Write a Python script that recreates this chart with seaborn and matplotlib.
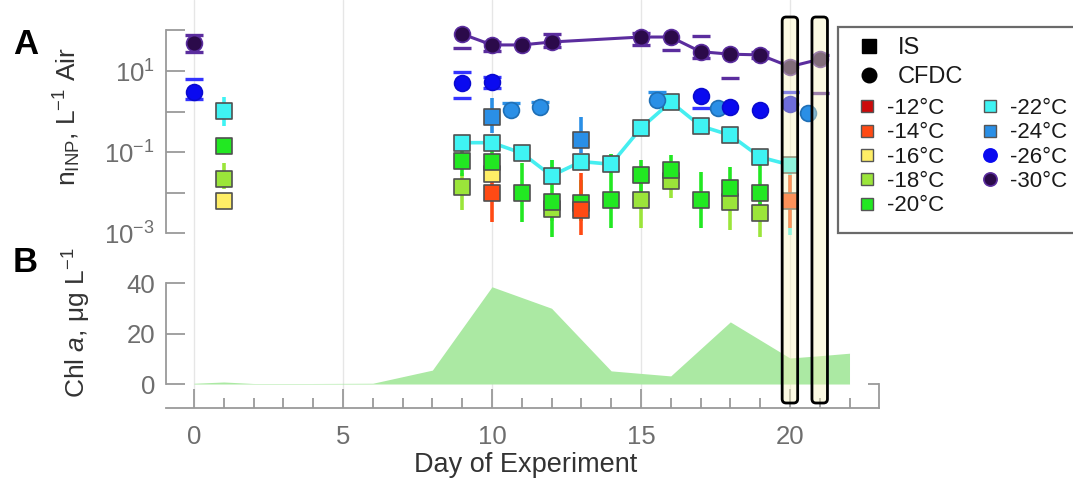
import numpy as np
import matplotlib
matplotlib.use("Agg")
import matplotlib.pyplot as plt
import seaborn as sns
from matplotlib import ticker
from matplotlib.lines import Line2D
from matplotlib.patches import Rectangle, FancyBboxPatch

sns.set_theme(style="white")
plt.rcParams["font.family"] = ["Liberation Sans", "DejaVu Sans"]
plt.rcParams["mathtext.fontset"] = "custom"
plt.rcParams["mathtext.rm"] = "Liberation Sans"
plt.rcParams["mathtext.it"] = "Liberation Sans:italic"
plt.rcParams["mathtext.bf"] = "Liberation Sans:bold"

nan = np.nan

# ---------------- data ----------------
temp_labels = ["-12°C", "-14°C", "-16°C", "-18°C", "-20°C",
               "-22°C", "-24°C", "-26°C", "-30°C"]
temp_colors = ["#cc0a0a", "#ff4a14", "#ffee66", "#9be53a", "#22e822",
               "#3ff3f3", "#2a8fe6", "#0a0af0", "#2b0a4a"]

# Ice spectrometer (IS) samples: day, value, lower / upper bound (L^-1 air)
is_m14_day = [10, 13, 20]
is_m14_val = [0.0098, 0.0037, 0.0061]
is_m14_lo = [0.0019, 0.00089, 0.0013]
is_m14_hi = [0.030, 0.030, 0.027]

is_m16_day = [1, 10]
is_m16_val = [0.0062, 0.029]
is_m16_lo = [0.0050, 0.025]
is_m16_hi = [0.0075, 0.033]

is_m18_day = [1, 9, 12, 15, 16, 18, 19]
is_m18_val = [0.0216, 0.0137, 0.0039, 0.0065, 0.019, 0.0058, 0.0031]
is_m18_lo = [0.012, 0.0037, 0.0020, 0.0013, 0.0073, 0.00118, 0.00079]
is_m18_hi = [0.054, 0.030, 0.0060, 0.020, 0.040, 0.015, 0.010]

is_m20_day = [1, 9, 10, 11, 12, 13, 14, 15, 16, 17, 18, 19]
is_m20_val = [0.14, 0.060, 0.056, 0.0098, 0.0058, 0.0055, 0.0065, 0.027, 0.036, 0.0065, 0.0129, 0.0098]
is_m20_lo = [0.10, 0.025, 0.020, 0.0019, 0.00079, 0.0020, 0.0013, 0.010, 0.015, 0.0013, 0.0040, 0.0040]
is_m20_hi = [0.16, 0.15, 0.12, 0.054, 0.063, 0.020, 0.090, 0.063, 0.084, 0.032, 0.043, 0.075]

is_m22_day = [1, 9, 10, 11, 12, 13, 14, 15, 16, 17, 18, 19, 20]
is_m22_val = [1.05, 0.17, 0.17, 0.094, 0.026, 0.058, 0.050, 0.39, 1.72, 0.44, 0.26, 0.075, 0.048]
is_m22_lo = [0.44, 0.15, 0.15, 0.085, 0.020, 0.050, 0.045, 0.35, 1.50, 0.40, 0.23, 0.060, 0.0009]
is_m22_hi = [2.28, 0.19, 0.19, 0.13, 0.063, 0.066, 0.090, 0.43, 1.95, 0.48, 0.29, 0.090, 0.070]

is_m24_day = [10, 13]
is_m24_val = [0.73, 0.20]
is_m24_lo = [0.29, 0.094]
is_m24_hi = [2.15, 0.73]

# Continuous-flow diffusion chamber (CFDC) samples
cfdc_m24_day = [10.65, 11.6, 15.55, 17.6, 20.6]
cfdc_m24_val = [1.09, 1.29, 1.92, 1.22, 0.92]
cfdc_m24_lo = [nan, nan, nan, nan, nan]
cfdc_m24_hi = [1.6, 1.7, 3.1, nan, nan]

cfdc_m26_day = [0, 9, 10, 17, 18, 19, 20]
cfdc_m26_val = [3.1, 5.0, 5.4, 2.4, 1.26, 1.09, 1.53]
cfdc_m26_lo = [2.05, 2.2, 3.7, 1.2, nan, nan, nan]
cfdc_m26_hi = [6.3, 9.3, 7.2, nan, nan, nan, 3.1]

cfdc_m30_day = [0, 9, 10, 11, 12, 15, 16, 17, 18, 19, 20, 21]
cfdc_m30_val = [50, 82, 44, 44, 52, 69, 69, 30, 26, 25, 12.8, 19.5]
cfdc_m30_lo = [29, 37, 31.7, nan, 38.5, 44, 33, 20.5, 6.9, 20.5, nan, 2.9]
cfdc_m30_hi = [77.5, nan, 53, nan, 82, 86, nan, 73, nan, 30, nan, 24.8]

# Chlorophyll a (ug L^-1)
chl_day = [0, 1, 2, 4, 6, 8, 10, 12, 14, 16, 18, 20, 21, 22]
chl_val = [0.3, 0.8, 0.2, 0.2, 0.3, 5.5, 38.5, 30, 5.2, 3.2, 24.6, 10.3, 11.2, 12.2]

highlight_days = [20, 21]
connected_from_day = 9

# ---------------- layout ----------------
W, H = 1073, 482
fig = plt.figure(figsize=(W / 100, H / 100), dpi=100)


def fx(px):
    return px / W


def fy(py):
    return 1 - py / H


ax1 = fig.add_axes([fx(166), fy(245), fx(879) - fx(166), fy(0) - fy(245)])
ax2 = fig.add_axes([fx(166), fy(408), fx(879) - fx(166), fy(245) - fy(408)])
for ax in (ax1, ax2):
    ax.patch.set_alpha(0)

XLIM = (-0.94, 22.99)
SPINE = "#9a9a9a"
TICKLAB = "#6e6e6e"
LABEL = "#333333"
GRID = "#e6e6e6"
TICKFS = 18.5

col = dict(zip(temp_labels, temp_colors))

# ---------------- panel A ----------------
ax1.set_yscale("log")
ax1.set_xlim(*XLIM)
ax1.set_ylim(10 ** -3.296, 10 ** 2.753)


def draw_is(days, vals, lo, hi, label, zo):
    d = np.asarray(days, float)
    v = np.asarray(vals, float)
    err = [v - np.asarray(lo, float), np.asarray(hi, float) - v]
    ax1.errorbar(d, v, yerr=err, fmt="none", ecolor=col[label],
                 elinewidth=2.6, capsize=0, zorder=zo - 0.5)
    sns.scatterplot(x=d, y=v, marker="s", s=125, color=col[label],
                    edgecolor="#505050", linewidth=1.2, ax=ax1,
                    zorder=zo, legend=False)


def draw_cfdc(days, vals, lo, hi, label, face, edge, capcolor, zo):
    d = np.asarray(days, float)
    for bound in (lo, hi):
        ax1.plot(d, np.asarray(bound, float), ls="none", marker="_",
                 ms=12.5, mew=2.4, color=capcolor, zorder=zo - 0.5)
    sns.scatterplot(x=d, y=np.asarray(vals, float), marker="o", s=130,
                    color=face, edgecolor=edge, linewidth=1.2, ax=ax1,
                    zorder=zo, legend=False)


# connecting lines through the daily series
m22d = np.asarray(is_m22_day, float)
m22v = np.asarray(is_m22_val, float)
sel = m22d >= connected_from_day
sns.lineplot(x=m22d[sel], y=m22v[sel], color="#45eef0", lw=2.6, ax=ax1,
             estimator=None, sort=False, legend=False, zorder=3)

m30d = np.asarray(cfdc_m30_day, float)
m30v = np.asarray(cfdc_m30_val, float)
sel = m30d >= connected_from_day
sns.lineplot(x=m30d[sel], y=m30v[sel], color="#5b2d9e", lw=2.2, ax=ax1,
             estimator=None, sort=False, legend=False, zorder=3)

draw_is(is_m24_day, is_m24_val, is_m24_lo, is_m24_hi, "-24°C", 4)
draw_is(is_m22_day, is_m22_val, is_m22_lo, is_m22_hi, "-22°C", 4.2)
draw_is(is_m18_day, is_m18_val, is_m18_lo, is_m18_hi, "-18°C", 4.4)
draw_is(is_m16_day, is_m16_val, is_m16_lo, is_m16_hi, "-16°C", 4.5)
draw_is(is_m20_day, is_m20_val, is_m20_lo, is_m20_hi, "-20°C", 4.6)
draw_is(is_m14_day, is_m14_val, is_m14_lo, is_m14_hi, "-14°C", 4.8)

draw_cfdc(cfdc_m24_day, cfdc_m24_val, cfdc_m24_lo, cfdc_m24_hi, "-24°C",
          col["-24°C"], "#1f6fb5", "#2a8fe6", 5)
draw_cfdc(cfdc_m26_day, cfdc_m26_val, cfdc_m26_lo, cfdc_m26_hi, "-26°C",
          col["-26°C"], "#0a0ad0", "#3333ff", 5.2)
draw_cfdc(cfdc_m30_day, cfdc_m30_val, cfdc_m30_lo, cfdc_m30_hi, "-30°C",
          col["-30°C"], "#5b2d9e", "#5b2d9e", 5.4)

ax1.set_xticks([0, 5, 10, 15, 20])
ax1.tick_params(axis="x", bottom=False, length=0, labelbottom=False)
ax1.grid(axis="x", color=GRID, lw=1)
ax1.grid(axis="y", visible=False)
ax1.set_axisbelow(True)
ax1.set_yticks([10.0 ** k for k in range(-3, 3)])
ax1.yaxis.set_minor_locator(ticker.NullLocator())
ax1.yaxis.set_major_formatter(ticker.FuncFormatter(
    lambda v, p: (r"$10^{%d}$" % round(np.log10(v))) if round(np.log10(v)) % 2 else ""))
ax1.tick_params(axis="y", left=True, direction="in", length=13.5, width=1.3,
                color=SPINE, labelsize=TICKFS, labelcolor=TICKLAB, pad=8)
for s in ("top", "right", "bottom"):
    ax1.spines[s].set_visible(False)
ax1.spines["left"].set_color(SPINE)
ax1.spines["left"].set_linewidth(1.3)
ax1.spines["left"].set_bounds(1e-3, 1e2)

# ---------------- panel B ----------------
ax2.set_xlim(*XLIM)
ax2.set_ylim(-9.5, 55.05)
ax2.fill_between(chl_day, chl_val, 0, color="#abe9a3", lw=0, zorder=2)
ax2.set_xticks([0, 5, 10, 15, 20])
ax2.xaxis.set_minor_locator(ticker.FixedLocator(list(range(1, 23))))
ax2.set_yticks([0, 20, 40])
ax2.grid(axis="x", color=GRID, lw=1)
ax2.grid(axis="y", visible=False)
ax2.set_axisbelow(True)
ax2.tick_params(axis="x", which="major", bottom=True, direction="in",
                length=14, width=1.3, color=SPINE, labelsize=TICKFS,
                labelcolor=TICKLAB, pad=12)
ax2.tick_params(axis="x", which="minor", bottom=True, direction="in",
                length=7, width=1.3, color=SPINE)
ax2.tick_params(axis="y", left=True, direction="in", length=13.5, width=1.3,
                color=SPINE, labelsize=TICKFS, labelcolor=TICKLAB, pad=8)
ax2.spines["top"].set_visible(False)
ax2.spines["right"].set_visible(False)
for s in ("left", "bottom"):
    ax2.spines[s].set_color(SPINE)
    ax2.spines[s].set_linewidth(1.3)
ax2.spines["left"].set_bounds(0, 40)

# short right-hand spine with a tick at zero
ax2r = ax2.twinx()
ax2r.set_ylim(ax2.get_ylim())
ax2r.set_yticks([0])
ax2r.tick_params(axis="y", right=True, direction="in", length=8, width=1.3,
                 color=SPINE, labelright=False)
for s in ("top", "left", "bottom"):
    ax2r.spines[s].set_visible(False)
ax2r.spines["right"].set_color(SPINE)
ax2r.spines["right"].set_linewidth(1.3)
ax2r.spines["right"].set_bounds(-9.5, 0)
ax2r.grid(False)

# ---------------- labels ----------------
fig.text(fx(67), fy(117), r"n$_{\rm INP}$, L$^{-1}$ Air", rotation=90,
         ha="center", va="center", fontsize=19, color=LABEL)
fig.text(fx(77), fy(323), r"Chl $\it{a}$, μg L$^{-1}$", rotation=90,
         ha="center", va="center", fontsize=19, color=LABEL)
fig.text(fx(526), fy(465), "Day of Experiment", ha="center", va="center",
         fontsize=19.5, color=LABEL)
fig.text(fx(26), fy(44), "A", ha="center", va="center", fontsize=25,
         fontweight="bold", color="black")
fig.text(fx(25), fy(263), "B", ha="center", va="center", fontsize=25,
         fontweight="bold", color="black")

# ---------------- highlighted days ----------------
to_fig = ax2.transData + fig.transFigure.inverted()
half = 0.26
for d in highlight_days:
    x0 = to_fig.transform((d - half, 0))[0]
    x1 = to_fig.transform((d + half, 0))[0]
    box = FancyBboxPatch((x0, fy(403)), x1 - x0, fy(17) - fy(403),
                         boxstyle="round,pad=0,rounding_size=%f" % (4 / W),
                         mutation_aspect=W / H, transform=fig.transFigure,
                         facecolor=(0.98, 0.96, 0.74, 0.42), edgecolor="black",
                         lw=2, zorder=6)
    fig.add_artist(box)

# ---------------- legend ----------------
frame = Rectangle((fx(838), fy(233)), 0.3, fy(27) - fy(233),
                  transform=fig.transFigure, facecolor="white",
                  edgecolor="#6a6a6a", lw=1.6, zorder=10)
fig.add_artist(frame)

h_type = [Line2D([], [], ls="none", marker="s", ms=10, color="black"),
          Line2D([], [], ls="none", marker="o", ms=10.5, color="black")]
leg1 = fig.legend(h_type, ["IS", "CFDC"], loc="upper left",
                  bbox_to_anchor=(fx(855), fy(37)), frameon=False, fontsize=17,
                  handlelength=1.2, handletextpad=0.6, labelspacing=0.3,
                  borderpad=0, borderaxespad=0)
leg1.set_zorder(11)
for t in leg1.get_texts():
    t.set_color("#1a1a1a")

h_temp = []
for lab, c in zip(temp_labels, temp_colors):
    if lab in ("-26°C", "-30°C"):
        edge = "#5b2d9e" if lab == "-30°C" else c
        h_temp.append(Line2D([], [], ls="none", marker="o", ms=9.5,
                             markerfacecolor=c, markeredgecolor=edge, mew=1.2))
    else:
        h_temp.append(Line2D([], [], ls="none", marker="s", ms=8.5,
                             markerfacecolor=c, markeredgecolor="#555555", mew=1))
leg2 = fig.legend(h_temp, temp_labels, loc="upper left", ncol=2,
                  bbox_to_anchor=(fx(857), fy(98)), frameon=False, fontsize=16,
                  handlelength=0.9, handletextpad=0.45, labelspacing=0.15,
                  columnspacing=1.6, borderpad=0, borderaxespad=0)
leg2.set_zorder(11)
for t in leg2.get_texts():
    t.set_color("#1a1a1a")

fig.savefig("out.png", dpi=100)
